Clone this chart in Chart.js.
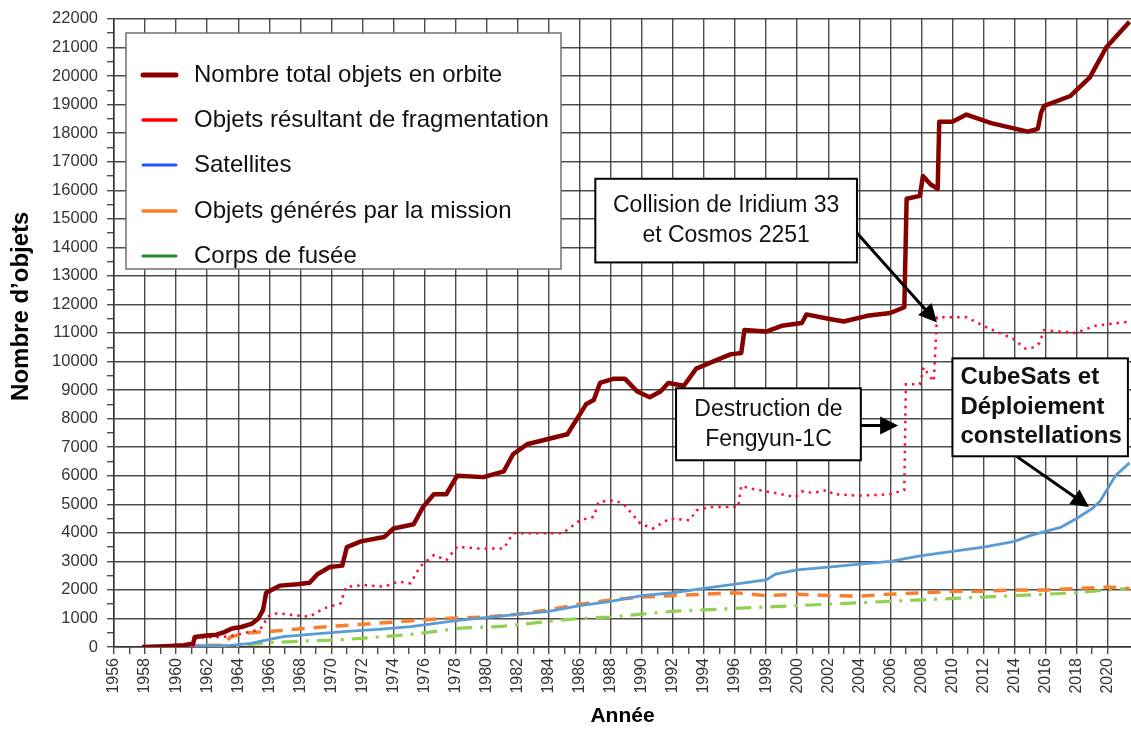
<!DOCTYPE html>
<html lang="fr">
<head>
<meta charset="utf-8">
<title>Objets en orbite</title>
<script src="https://cdn.jsdelivr.net/npm/chart.js@4.4.1/dist/chart.umd.min.js"></script>
<style>
  html, body { margin: 0; padding: 0; background: #fff; }
  #wrap { width: 1131px; height: 731px; position: relative; }
</style>
</head>
<body>
<div id="wrap"><canvas id="myChart"></canvas></div>
<script>
// valeurs (année, nombre d'objets)
const totalYears = [1957.8, 1959.0, 1960.5, 1961.1, 1961.2, 1962.0, 1962.6, 1963.1, 1963.6, 1964.2, 1964.9, 1965.3, 1965.6, 1965.8, 1966.7, 1967.8, 1968.6, 1969.1, 1969.9, 1970.7, 1971.0, 1971.9, 1973.4, 1974.0, 1975.3, 1975.9, 1976.6, 1977.4, 1978.1, 1979.8, 1981.1, 1981.7, 1982.6, 1983.7, 1985.2, 1986.0, 1986.4, 1986.9, 1987.3, 1988.2, 1988.9, 1989.7, 1990.5, 1991.2, 1991.7, 1992.7, 1993.5, 1994.8, 1995.7, 1996.4, 1996.6, 1998.0, 1999.0, 2000.3, 2000.6, 2002.0, 2003.0, 2004.5, 2006.0, 2006.9, 2007.05, 2007.9, 2008.1, 2008.6, 2009.05, 2009.15, 2010.0, 2010.9, 2012.5, 2014.85, 2015.5, 2015.7, 2015.9, 2017.6, 2018.85, 2019.3, 2019.9, 2021.4];
const totalValues = [0, 20, 60, 120, 350, 400, 430, 520, 650, 700, 820, 1000, 1300, 1900, 2150, 2200, 2250, 2550, 2800, 2850, 3500, 3700, 3850, 4150, 4300, 4900, 5350, 5350, 6000, 5950, 6150, 6750, 7100, 7250, 7450, 8150, 8500, 8650, 9250, 9400, 9400, 8950, 8750, 8950, 9250, 9150, 9750, 10050, 10250, 10300, 11100, 11050, 11250, 11350, 11650, 11500, 11400, 11600, 11700, 11900, 15700, 15800, 16500, 16200, 16050, 18400, 18400, 18650, 18350, 18050, 18150, 18700, 18950, 19300, 19950, 20400, 21000, 21900];

const fragYears = [1961.1, 1961.3, 1963.0, 1963.9, 1965.2, 1965.6, 1965.85, 1966.5, 1968.6, 1969.5, 1970.6, 1970.8, 1970.95, 1972.1, 1973.4, 1974.3, 1975.1, 1975.7, 1976.6, 1977.4, 1978.1, 1979.4, 1981.1, 1981.7, 1984.9, 1986.0, 1986.9, 1987.2, 1988.2, 1988.8, 1989.9, 1990.7, 1991.8, 1993.1, 1993.5, 1994.4, 1996.2, 1996.4, 1997.0, 1998.5, 1999.9, 2000.3, 2001.0, 2002.0, 2002.3, 2004.0, 2006.0, 2006.9, 2007.0, 2007.9, 2008.15, 2008.5, 2008.8, 2009.0, 2010.9, 2012.0, 2012.6, 2013.9, 2014.7, 2015.3, 2015.6, 2015.9, 2017.9, 2019.2, 2021.4];
const fragValues = [0, 330, 350, 420, 590, 710, 1060, 1180, 1060, 1350, 1530, 1880, 2110, 2170, 2110, 2290, 2230, 2810, 3220, 3040, 3510, 3450, 3450, 3980, 3980, 4440, 4560, 5080, 5140, 5020, 4320, 4150, 4500, 4440, 4790, 4900, 4900, 5650, 5550, 5400, 5250, 5450, 5400, 5500, 5350, 5300, 5350, 5500, 9200, 9200, 9800, 9500, 9300, 11550, 11550, 11250, 11100, 10800, 10450, 10500, 10650, 11100, 11000, 11250, 11400];

const satYears = [1957.8, 1959.0, 1963.5, 1964.8, 1966.9, 1968.8, 1970.8, 1973.0, 1975.1, 1978.3, 1981.5, 1984.0, 1986.0, 1988.0, 1990.0, 1992.0, 1994.0, 1996.0, 1998.0, 1998.6, 2000.0, 2002.0, 2004.0, 2006.0, 2008.0, 2010.0, 2012.0, 2014.0, 2015.0, 2016.0, 2017.0, 2018.0, 2019.0, 2019.5, 2020.0, 2020.5, 2021.4];
const satValues = [0, 50, 60, 130, 360, 450, 540, 620, 710, 940, 1120, 1250, 1450, 1600, 1800, 1900, 2050, 2200, 2350, 2550, 2700, 2800, 2900, 3000, 3200, 3350, 3500, 3700, 3900, 4050, 4200, 4500, 4850, 5100, 5550, 6000, 6450];

const missionYears = [1957.8, 1963.0, 1963.5, 1964.4, 1965.9, 1969.7, 1972.9, 1977.2, 1980.0, 1982.0, 1984.0, 1986.0, 1988.0, 1990.0, 1992.0, 1994.0, 1996.0, 1998.0, 2000.0, 2002.0, 2004.0, 2006.0, 2008.0, 2010.0, 2012.0, 2014.0, 2016.0, 2018.0, 2020.0, 2021.4];
const missionValues = [0, 60, 350, 480, 540, 710, 830, 1000, 1050, 1150, 1300, 1500, 1650, 1750, 1800, 1850, 1900, 1800, 1850, 1800, 1780, 1850, 1900, 1950, 1950, 2000, 2000, 2050, 2100, 2050];

const rocketYears = [1957.8, 1964.0, 1966.0, 1967.8, 1970.8, 1973.0, 1975.1, 1978.3, 1981.0, 1984.0, 1986.0, 1988.0, 1990.0, 1992.0, 1994.0, 1996.0, 1998.0, 2000.0, 2002.0, 2004.0, 2006.0, 2008.0, 2010.0, 2012.0, 2014.0, 2016.0, 2018.0, 2020.0, 2021.4];
const rocketValues = [0, 50, 150, 200, 260, 350, 440, 660, 720, 900, 1000, 1050, 1150, 1250, 1300, 1350, 1400, 1450, 1500, 1550, 1600, 1650, 1700, 1750, 1800, 1850, 1900, 2000, 2050];

const seriesLabels = [
  "Nombre total objets en orbite",
  "Objets résultant de fragmentation",
  "Satellites",
  "Objets générés par la mission",
  "Corps de fusée"
];
const legendColors = ["#8b0000", "#ff0000", "#1f55ff", "#ff7f27", "#1e8c1e"];

// encadrés : texte et points d'ancrage en (année, valeur)
const notes = [
  { lines: ["Collision de Iridium 33", "et Cosmos 2251"], box: [1987.0, 16400, 2003.85, 13470], from: [2003.85, 14500], to: [2009.0, 11370], bold: false },
  { lines: ["Destruction de", "Fengyun-1C"], box: [1992.2, 9060, 2004.1, 6540], from: [2004.1, 7760], to: [2006.5, 7760], bold: false },
  { lines: ["CubeSats et", "Déploiement", "constellations"], box: [2010.0, 10110, 2021.3, 6680], from: [2014.2, 6650], to: [2018.8, 4900], bold: true }
];

function toPoints(xs, ys) {
  return xs.map((x, i) => ({ x: x, y: ys[i] }));
}

const gridColor = "rgba(45,45,45,0.85)";
const tickFont = { family: "'Liberation Sans', Arial, sans-serif", size: 16 };

const decorations = {
  id: "decorations",
  afterDatasetsDraw(chart) {
    const ctx = chart.ctx;
    const xs = chart.scales.x;
    const ys = chart.scales.y;
    ctx.save();

    // légende
    ctx.fillStyle = "#fff";
    ctx.fillRect(126, 33, 435, 236);
    ctx.strokeStyle = "#707070";
    ctx.lineWidth = 1.5;
    ctx.strokeRect(126, 33, 435, 236);
    const rows = [75, 120, 165, 211, 256];
    const widths = [5, 3.5, 3, 3.5, 3];
    ctx.font = "24px 'Liberation Sans', Arial, sans-serif";
    ctx.textBaseline = "middle";
    ctx.textAlign = "left";
    chart.data.datasets.forEach((ds, i) => {
      ctx.beginPath();
      ctx.lineCap = "round";
      ctx.strokeStyle = legendColors[i];
      ctx.lineWidth = widths[i];
      ctx.moveTo(143, rows[i]);
      ctx.lineTo(176, rows[i]);
      ctx.stroke();
      ctx.fillStyle = "#111";
      ctx.fillText(ds.label, 194, rows[i]);
    });

    // encadrés et flèches
    notes.forEach((n) => {
      const left = xs.getPixelForValue(n.box[0]);
      const top = ys.getPixelForValue(n.box[1]);
      const right = xs.getPixelForValue(n.box[2]);
      const bottom = ys.getPixelForValue(n.box[3]);

      const fx = xs.getPixelForValue(n.from[0]);
      const fy = ys.getPixelForValue(n.from[1]);
      const tx = xs.getPixelForValue(n.to[0]);
      const ty = ys.getPixelForValue(n.to[1]);
      const ang = Math.atan2(ty - fy, tx - fx);
      const head = 18;
      ctx.strokeStyle = "#000";
      ctx.lineWidth = 3;
      ctx.beginPath();
      ctx.moveTo(fx, fy);
      ctx.lineTo(tx - Math.cos(ang) * head * 0.8, ty - Math.sin(ang) * head * 0.8);
      ctx.stroke();
      ctx.fillStyle = "#000";
      ctx.beginPath();
      ctx.moveTo(tx, ty);
      ctx.lineTo(tx - head * Math.cos(ang) + 9 * Math.sin(ang), ty - head * Math.sin(ang) - 9 * Math.cos(ang));
      ctx.lineTo(tx - head * Math.cos(ang) - 9 * Math.sin(ang), ty - head * Math.sin(ang) + 9 * Math.cos(ang));
      ctx.closePath();
      ctx.fill();

      ctx.fillStyle = "#fff";
      ctx.fillRect(left, top, right - left, bottom - top);
      ctx.strokeStyle = "#000";
      ctx.lineWidth = 2;
      ctx.strokeRect(left, top, right - left, bottom - top);

      ctx.fillStyle = "#111";
      ctx.font = (n.bold ? "bold 24px " : "23px ") + "'Liberation Sans', Arial, sans-serif";
      const lh = n.bold ? 29.5 : 30;
      const y0 = (top + bottom) / 2 - (n.lines.length - 1) * lh / 2;
      n.lines.forEach((t, i) => {
        if (n.bold) {
          ctx.textAlign = "left";
          ctx.fillText(t, left + 8, y0 + i * lh);
        } else {
          ctx.textAlign = "center";
          ctx.fillText(t, (left + right) / 2, y0 + i * lh);
        }
      });
    });
    ctx.restore();
  }
};

const ctx = document.querySelector("#myChart");

new Chart(ctx, {
  type: "line",
  data: {
    datasets: [
      {
        label: seriesLabels[0],
        data: toPoints(totalYears, totalValues),
        borderColor: "#860000",
        borderWidth: 4.5,
        borderJoinStyle: "round"
      },
      {
        label: seriesLabels[1],
        data: toPoints(fragYears, fragValues),
        borderColor: "#ff1030",
        borderWidth: 2.5,
        borderDash: [2.5, 5]
      },
      {
        label: seriesLabels[2],
        data: toPoints(satYears, satValues),
        borderColor: "#5b9bd5",
        borderWidth: 2.8
      },
      {
        label: seriesLabels[3],
        data: toPoints(missionYears, missionValues),
        borderColor: "#f58030",
        borderWidth: 3.5,
        borderDash: [13, 9]
      },
      {
        label: seriesLabels[4],
        data: toPoints(rocketYears, rocketValues),
        borderColor: "#92d050",
        borderWidth: 3.2,
        borderDash: [16, 8, 3, 8]
      }
    ]
  },
  options: {
    responsive: true,
    maintainAspectRatio: false,
    animation: false,
    layout: { padding: { top: 18, right: 0, bottom: 0, left: 0 } },
    elements: { point: { radius: 0 }, line: { tension: 0 } },
    plugins: {
      legend: { display: false },
      tooltip: { enabled: false }
    },
    scales: {
      x: {
        type: "linear",
        min: 1956,
        max: 2021.5,
        afterBuildTicks: (scale) => {
          scale.ticks = scale.ticks.filter((t) => Number.isInteger(t.value));
        },
        afterFit: (scale) => { scale.height = 84; },
        ticks: {
          stepSize: 1,
          autoSkip: false,
          minRotation: 90,
          maxRotation: 90,
          padding: 4,
          color: "#333",
          font: tickFont,
          callback: (v) => (v % 2 === 0 ? String(v) : "")
        },
        grid: {
          color: (c) => (c.tick && c.tick.value % 2 === 0 ? gridColor : "transparent"),
          tickColor: gridColor,
          lineWidth: 1.4,
          tickLength: 7
        },
        border: { color: "#333", width: 1.5 },
        title: {
          display: true,
          text: "Année",
          color: "#000",
          font: { family: "'Liberation Sans', Arial, sans-serif", size: 21, weight: "bold" },
          padding: { top: 0, bottom: 2 }
        }
      },
      y: {
        min: 0,
        max: 22000,
        afterFit: (scale) => { scale.width = 114; },
        ticks: {
          stepSize: 500,
          autoSkip: false,
          padding: 9,
          color: "#333",
          font: { family: "'Liberation Sans', Arial, sans-serif", size: 16.5 },
          callback: (v) => (v % 1000 === 0 ? String(v) : "")
        },
        grid: {
          color: (c) => (c.tick && c.tick.value % 1000 === 0 ? gridColor : "transparent"),
          tickColor: gridColor,
          lineWidth: 1.4,
          tickLength: 7
        },
        border: { color: "#333", width: 1.5 },
        title: {
          display: true,
          // espaces insécables en tête pour remonter le titre comme sur l'original
          text: "\u00a0\u00a0\u00a0\u00a0\u00a0\u00a0\u00a0\u00a0Nombre d’objets",
          color: "#000",
          font: { family: "'Liberation Sans', Arial, sans-serif", size: 24, weight: "bold" },
          padding: { top: 7, bottom: 0 }
        }
      }
    }
  },
  plugins: [decorations]
});
</script>
</body>
</html>
